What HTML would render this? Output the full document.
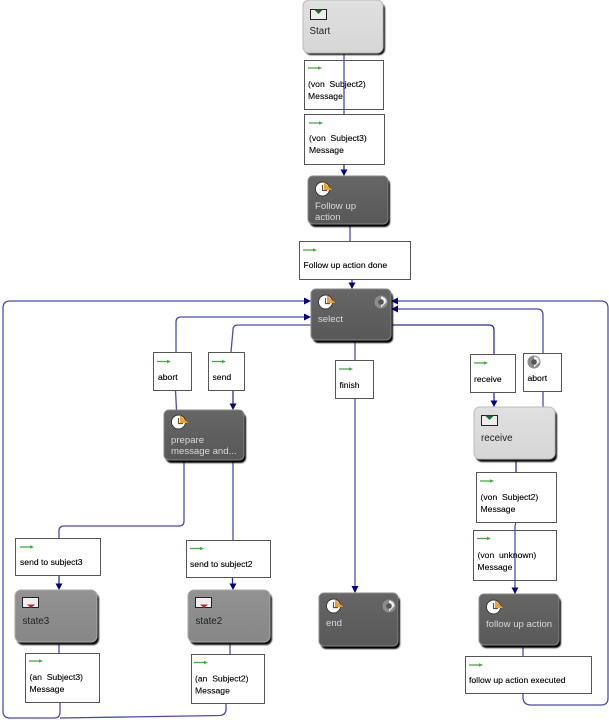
<!DOCTYPE html>
<html>
<head>
<meta charset="utf-8">
<style>
html,body{margin:0;padding:0;background:#fff;}
svg{display:block;filter:blur(0.3px);}
text{font-family:"Liberation Sans",sans-serif;}
.t{font-size:8.6px;fill:#000;stroke:#000;stroke-width:0.12px;}
.w{font-size:9.6px;fill:#d8d8d8;}
.g{font-size:9.8px;fill:#222;}
.b{fill:#fff;stroke:#555;stroke-width:1;}
.l{fill:none;stroke:#4a4ab0;stroke-width:1.3;}
.d{fill:none;stroke:#2c2ca0;stroke-width:1.3;}
.a{fill:#00008b;}
</style>
</head>
<body>
<svg width="609" height="720" viewBox="0 0 609 720" xmlns="http://www.w3.org/2000/svg">
<defs>
<filter id="s" x="-10%" y="-10%" width="125%" height="125%"><feGaussianBlur stdDeviation="0.7"/></filter>
<linearGradient id="dk" x1="0" y1="0" x2="0" y2="1"><stop offset="0" stop-color="#666"/><stop offset="1" stop-color="#585858"/></linearGradient>
<linearGradient id="md" x1="0" y1="0" x2="0" y2="1"><stop offset="0" stop-color="#929292"/><stop offset="1" stop-color="#878787"/></linearGradient>
<linearGradient id="lt" x1="0" y1="0" x2="0" y2="1"><stop offset="0" stop-color="#e0e0e0"/><stop offset="1" stop-color="#d6d6d6"/></linearGradient>
<g id="clock">
<circle cx="7.500" cy="8" r="7" fill="#fff" stroke="#333" stroke-width="0.9"/>
<path d="M7.500 4V9.500H12" fill="none" stroke="#555" stroke-width="1.2"/>
<path d="M9 1L17 9L9 9Z" fill="#f5a02a"/>
</g>
<g id="arr"><path d="M0 0H12" stroke="#44aa44" stroke-width="1.3"/><path d="M10 -1.8L14 0L10 1.8Z" fill="#44aa44"/></g>
<g id="inbox"><rect x="0.5" y="0.5" width="16" height="10" fill="#eee" stroke="#222"/><path d="M4 0.5H13L8.5 5Z" fill="#1f6b2f"/></g>
<g id="outbox"><rect x="0.5" y="0.5" width="16" height="10" fill="#eee" stroke="#222"/><path d="M5 7.5H13L9 11Z" fill="#c8202a"/></g>
<g id="ball"><circle cx="6" cy="6" r="6.500" fill="#8c8c8c"/><path d="M6 0.5A5.500 5.500 0 0 1 11.500 6L6 11.500Z" fill="#eee"/><circle cx="6" cy="6" r="2.800" fill="#555"/></g>
</defs>

<!-- lines under the boxes -->
<path class="l" d="M350 225V241"/>
<path class="d" d="M352 279V284"/>
<path class="a" d="M348.500 282.500H355.500L352 289Z"/>
<path class="d" d="M344 164V171"/>
<path class="a" d="M340.500 169.500H347.500L344 176Z"/>

<path class="l" d="M355 342V360"/>
<path class="l" d="M355 398V587"/>
<path class="a" d="M351.500 586H358.500L355 593Z"/>

<path class="l" d="M60 702V712Q60 718 54 718H10Q3 718 3 711V308Q3 301 10 301H305"/>
<path class="l" d="M226 703V709Q226 715 220 715.500L60 718"/>
<path class="a" d="M304 297.500V304.500L311 301Z"/>

<path class="l" d="M176 352V322Q176 317 181 317H305"/>
<path class="a" d="M304 313.500V320.500L311 317Z"/>
<path class="l" d="M175.500 390L176.500 410"/>

<path class="l" d="M231 352L233 330Q233 325 238 325H311"/>
<path class="d" d="M233 390V404"/>
<path class="a" d="M229.500 403.500H236.500L233 410Z"/>

<path class="l" d="M184 462V521Q184 526 179 526H64Q59 526 59 531V538"/>
<path class="l" d="M233 462V540"/>

<path class="d" d="M59 575V584"/>
<path class="a" d="M55.500 583.500H62.500L59 590Z"/>
<path class="d" d="M232.500 577V584"/>
<path class="a" d="M229.500 583.500H236.500L233 590Z"/>
<path class="l" d="M59 644V653"/>
<path class="l" d="M230 644V654"/>

<path class="d" d="M391 325H489Q494 325 494 330V354"/>
<path class="d" d="M494 392V401"/>
<path class="a" d="M490.500 400.500H497.500L494 407Z"/>
<path class="l" d="M397 309H537Q543 309 543 315V353"/>
<path class="a" d="M398 305.500V312.500L391 309Z"/>
<path class="l" d="M543 391V407"/>
<path class="l" d="M397 301H601Q608 301 608 308V698Q608 705 601 705H531Q523 705 523 697V693"/>
<path class="a" d="M398 297.500V304.500L391 301Z"/>
<path class="l" d="M523 647V656"/>
<path class="d" d="M516 461V472"/>

<!-- white boxes -->
<rect class="b" x="304.500" y="60.500" width="79" height="49"/>
<rect class="b" x="304.500" y="114.500" width="80" height="50"/>
<rect class="b" x="299.500" y="241.500" width="111" height="38"/>
<rect class="b" x="153.500" y="352.500" width="38" height="38"/>
<rect class="b" x="208.500" y="352.500" width="36" height="38"/>
<rect class="b" x="335.500" y="360.500" width="38" height="38"/>
<rect class="b" x="470.500" y="354.500" width="45" height="38"/>
<rect class="b" x="523.500" y="353.500" width="38" height="38"/>
<rect class="b" x="476.500" y="472.500" width="80" height="50"/>
<rect class="b" x="473.500" y="530.500" width="83" height="50"/>
<rect class="b" x="465.500" y="656.500" width="126" height="37"/>
<rect class="b" x="15.500" y="538.500" width="85" height="37"/>
<rect class="b" x="186.500" y="540.500" width="84" height="37"/>
<rect class="b" x="25.500" y="653.500" width="74" height="49"/>
<rect class="b" x="191.500" y="654.500" width="73" height="49"/>

<!-- lines over boxes -->
<path class="l" d="M344 54V114"/>
<path class="l" d="M516 522L515 526V594"/>
<path class="a" d="M511.500 587.500H518.500L515 594Z"/>

<!-- box icons -->
<use href="#arr" x="308" y="68"/>
<use href="#arr" x="309" y="123"/>
<use href="#arr" x="303" y="250"/>
<use href="#arr" x="157" y="361.500"/>
<use href="#arr" x="212" y="361.500"/>
<use href="#arr" x="339" y="369"/>
<use href="#arr" x="474" y="363"/>
<use href="#ball" x="528" y="356"/>
<use href="#arr" x="480" y="481"/>
<use href="#arr" x="477" y="538.500"/>
<use href="#arr" x="469" y="665"/>
<use href="#arr" x="20" y="547"/>
<use href="#arr" x="190" y="548.500"/>
<use href="#arr" x="29" y="661"/>
<use href="#arr" x="194" y="662.500"/>

<!-- box labels -->
<text class="t" x="308" y="87">(von&#160;&#160;Subject2)</text>
<text class="t" x="308" y="99">Message</text>
<text class="t" x="309" y="141">(von&#160;&#160;Subject3)</text>
<text class="t" x="309" y="153">Message</text>
<text class="t" x="303.500" y="268">Follow up action done</text>
<text class="t" x="158" y="380">abort</text>
<text class="t" x="212.500" y="380">send</text>
<text class="t" x="339.500" y="388">finish</text>
<text class="t" x="474" y="382">receive</text>
<text class="t" x="527.500" y="381">abort</text>
<text class="t" x="480.500" y="500">(von&#160;&#160;Subject2)</text>
<text class="t" x="480.500" y="512">Message</text>
<text class="t" x="477.500" y="558">(von&#160;&#160;unknown)</text>
<text class="t" x="477.500" y="570">Message</text>
<text class="t" x="469" y="683">follow up action executed</text>
<text class="t" x="20" y="565">send to subject3</text>
<text class="t" x="190" y="567">send to subject2</text>
<text class="t" x="29.500" y="680">(an&#160;&#160;Subject3)</text>
<text class="t" x="29.500" y="692">Message</text>
<text class="t" x="195" y="681.500">(an&#160;&#160;Subject2)</text>
<text class="t" x="195" y="693.500">Message</text>

<!-- Start -->
<rect x="305" y="3" width="80" height="52" rx="6" fill="#111" filter="url(#s)"/>
<rect x="303" y="0" width="80" height="53" rx="6" fill="url(#lt)" stroke="#bbb"/>
<use href="#inbox" x="310" y="9"/>
<text class="g" x="309.500" y="34">Start</text>

<!-- Follow up action -->
<rect x="310" y="179" width="80" height="48" rx="5" fill="#000" filter="url(#s)"/>
<rect x="308" y="176" width="80" height="48" rx="5" fill="url(#dk)" stroke="#888"/>
<use href="#clock" x="315" y="181"/>
<text class="w" x="315" y="209">Follow up</text>
<text class="w" x="315" y="220">action</text>

<!-- select -->
<rect x="313" y="292" width="80" height="51" rx="5" fill="#000" filter="url(#s)"/>
<rect x="311" y="289" width="80" height="51" rx="5" fill="url(#dk)" stroke="#888"/>
<use href="#clock" x="318" y="294"/>
<use href="#ball" x="375" y="296"/>
<text class="w" x="318" y="322">select</text>

<!-- prepare -->
<rect x="166" y="413" width="80" height="50" rx="5" fill="#000" filter="url(#s)"/>
<rect x="164" y="410" width="80" height="50" rx="5" fill="url(#dk)" stroke="#888"/>
<use href="#clock" x="171" y="414"/>
<text class="w" x="171" y="443">prepare</text>
<text class="w" x="171" y="454">message and...</text>

<!-- receive -->
<rect x="476" y="410" width="81" height="52" rx="6" fill="#111" filter="url(#s)"/>
<rect x="474" y="407" width="81" height="52" rx="6" fill="url(#lt)" stroke="#bbb"/>
<use href="#inbox" x="481" y="415"/>
<text class="g" x="481" y="441">receive</text>

<!-- state3 -->
<rect x="17" y="593" width="82" height="52" rx="6" fill="#111" filter="url(#s)"/>
<rect x="15" y="590" width="82" height="52" rx="6" fill="url(#md)" stroke="#aaa"/>
<use href="#outbox" x="22" y="597"/>
<text class="g" x="22.500" y="624">state3</text>

<!-- state2 -->
<rect x="190" y="593" width="82" height="52" rx="6" fill="#111" filter="url(#s)"/>
<rect x="188" y="590" width="82" height="52" rx="6" fill="url(#md)" stroke="#aaa"/>
<use href="#outbox" x="195" y="597"/>
<text class="g" x="195.500" y="624">state2</text>

<!-- end -->
<rect x="321" y="596" width="79" height="53" rx="5" fill="#000" filter="url(#s)"/>
<rect x="319" y="593" width="79" height="53" rx="5" fill="url(#dk)" stroke="#888"/>
<use href="#clock" x="326" y="598"/>
<use href="#ball" x="383" y="600"/>
<text class="w" x="326" y="626">end</text>

<!-- follow up action -->
<rect x="481" y="597" width="80" height="51" rx="5" fill="#000" filter="url(#s)"/>
<rect x="479" y="594" width="80" height="51" rx="5" fill="url(#dk)" stroke="#888"/>
<use href="#clock" x="486" y="599"/>
<text class="w" x="486" y="627">follow up action</text>
</svg>
</body>
</html>
